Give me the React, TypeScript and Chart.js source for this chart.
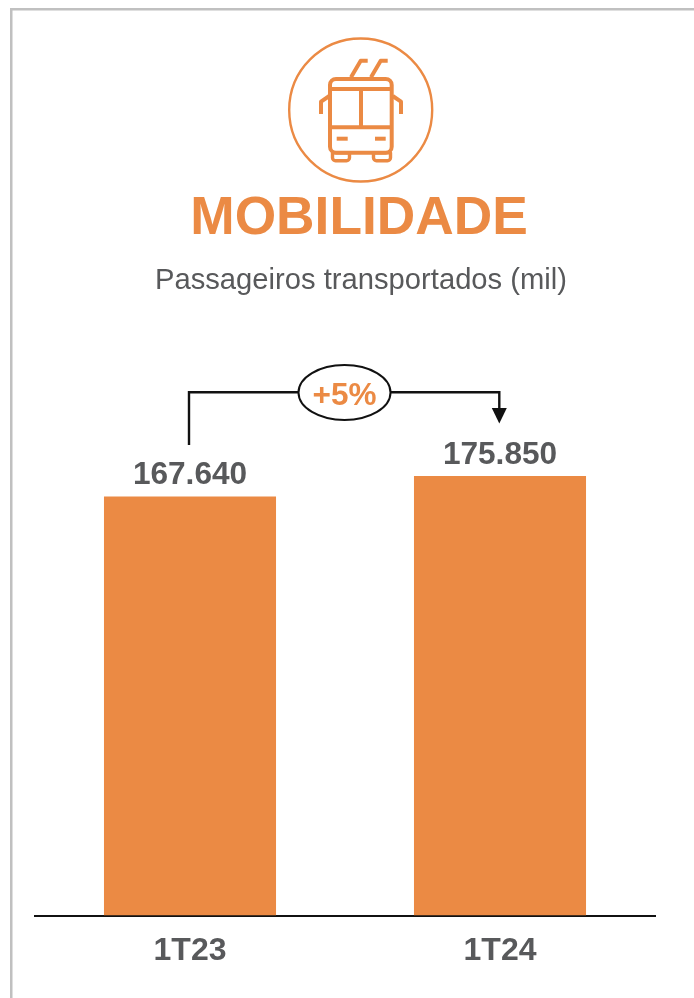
import React, { useEffect, useRef } from "react";
import { Chart, registerables } from "chart.js";

Chart.register(...registerables);

const categories = ["1T23", "1T24"];
const passengers = [167640, 175850];
const valueLabels = ["167.640", "175.850"];
const titleText = "MOBILIDADE";
const subtitleText = "Passageiros transportados (mil)";
const changeText = "+5%";

const ORANGE = "#EB8A44";
const GREY = "#58595B";
const INK = "#111111";
const FONT = '"Liberation Sans", Arial, sans-serif';

function poly(ctx: CanvasRenderingContext2D, pts: number[][]) {
  ctx.beginPath();
  pts.forEach((p, i) => (i ? ctx.lineTo(p[0], p[1]) : ctx.moveTo(p[0], p[1])));
  ctx.stroke();
}

const decorations = {
  id: "decorations",
  afterDraw(chart: any) {
    const ctx: CanvasRenderingContext2D = chart.ctx;
    const bars = chart.getDatasetMeta(0).data;
    ctx.save();

    // frame
    ctx.fillStyle = "#C0C0C0";
    ctx.fillRect(10, 8, 684, 2.5);
    ctx.fillRect(10, 8, 2.5, 990);

    // icon
    ctx.strokeStyle = ORANGE;
    ctx.lineJoin = "round";
    ctx.lineWidth = 2.4;
    ctx.beginPath();
    ctx.arc(360.7, 110, 71.5, 0, Math.PI * 2);
    ctx.stroke();
    ctx.lineWidth = 4;
    ctx.beginPath();
    ctx.roundRect(330, 79, 61.7, 73.7, 6);
    ctx.stroke();
    poly(ctx, [[330, 89], [391.7, 89]]);
    poly(ctx, [[330, 127.3], [391.7, 127.3]]);
    poly(ctx, [[361, 89], [361, 127.3]]);
    poly(ctx, [[336.7, 138.7], [347.7, 138.7]]);
    poly(ctx, [[375, 138.7], [385.7, 138.7]]);
    poly(ctx, [[329.3, 96], [321, 101.7], [321, 114]]);
    poly(ctx, [[392.7, 96], [401, 101.7], [401, 114]]);
    poly(ctx, [[351, 77.3], [360.7, 60.7], [367.7, 60.7]]);
    poly(ctx, [[371, 77.3], [380.7, 60.7], [387.7, 60.7]]);
    ctx.lineWidth = 3.4;
    ctx.beginPath();
    ctx.roundRect(332.5, 152.7, 17, 8, [0, 0, 3, 3]);
    ctx.roundRect(373.5, 152.7, 17, 8, [0, 0, 3, 3]);
    ctx.stroke();

    // headings
    ctx.textAlign = "center";
    ctx.textBaseline = "alphabetic";
    ctx.fillStyle = ORANGE;
    ctx.font = `bold 53.3px ${FONT}`;
    ctx.fillText(titleText, 359, 233.5);
    ctx.fillStyle = GREY;
    ctx.font = `29.2px ${FONT}`;
    ctx.fillText(subtitleText, 361, 289);

    // value labels
    ctx.font = `bold 31.6px ${FONT}`;
    bars.forEach((bar: any, i: number) => {
      ctx.fillText(valueLabels[i], bar.x, bar.y - 12);
    });

    // change connector
    const x0 = bars[0].x - 1;
    const x1 = bars[1].x - 0.7;
    const yTop = 392.3;
    ctx.strokeStyle = INK;
    ctx.fillStyle = INK;
    ctx.lineWidth = 2.4;
    ctx.lineJoin = "miter";
    poly(ctx, [[x0, 445], [x0, yTop], [x1, yTop], [x1, 409]]);
    ctx.beginPath();
    ctx.moveTo(x1 - 7.5, 408);
    ctx.lineTo(x1 + 7.5, 408);
    ctx.lineTo(x1, 423.5);
    ctx.closePath();
    ctx.fill();
    ctx.beginPath();
    ctx.ellipse(344.5, 392.5, 46, 27.5, 0, 0, Math.PI * 2);
    ctx.fillStyle = "#FFFFFF";
    ctx.fill();
    ctx.lineWidth = 2;
    ctx.stroke();
    ctx.fillStyle = ORANGE;
    ctx.font = `bold 31.5px ${FONT}`;
    ctx.fillText(changeText, 344.5, 405);
    ctx.restore();
  },
};

export default function App() {
  const ref = useRef<HTMLCanvasElement>(null);
  useEffect(() => {
    document.body.style.margin = "0";
    document.body.style.background = "#FFFFFF";
    const chart = new Chart(ref.current!, {
      type: "bar",
      data: {
        labels: categories,
        datasets: [
          {
            data: passengers,
            backgroundColor: ORANGE,
            borderWidth: 0,
            barPercentage: 0.555,
            categoryPercentage: 1,
          },
        ],
      },
      options: {
        responsive: false,
        animation: false,
        layout: { padding: { left: 35, right: 39, top: 315.5, bottom: 0 } },
        plugins: { legend: { display: false }, tooltip: { enabled: false }, title: { display: false } },
        scales: {
          y: { display: false, min: 0, max: 240000 },
          x: {
            afterFit(scale: any) {
              scale.height = 82.5;
            },
            grid: { display: false },
            border: { display: true, color: INK, width: 2 },
            ticks: {
              color: GREY,
              padding: 8,
              maxRotation: 0,
              font: { family: FONT, size: 32, weight: "bold" },
            },
          },
        },
      },
      plugins: [decorations],
    } as any);
    return () => chart.destroy();
  }, []);
  return <canvas ref={ref} width={694} height={998} style={{ display: "block" }} />;
}
